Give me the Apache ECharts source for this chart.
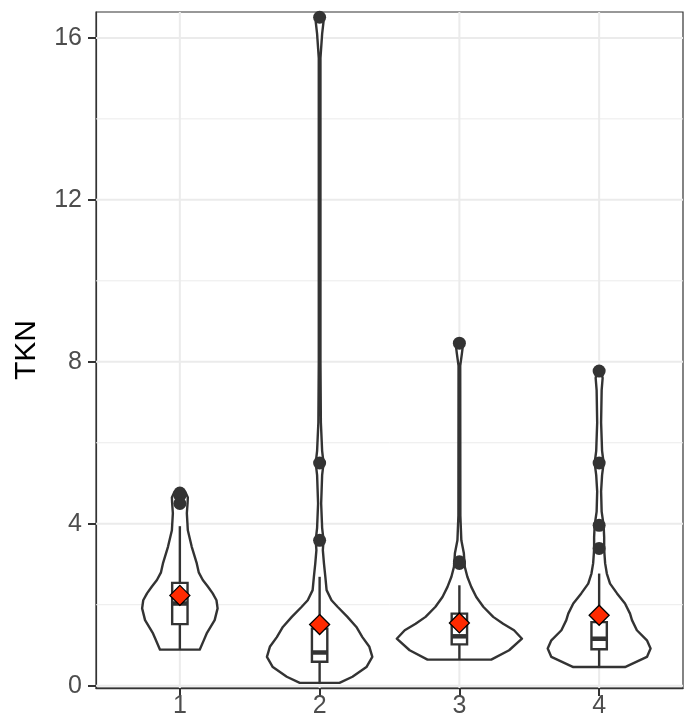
<!DOCTYPE html>
<html><head><meta charset="utf-8">
<script src="https://cdn.jsdelivr.net/npm/echarts@6/dist/echarts.min.js"></script>
<style>html,body{margin:0;padding:0;background:#fff}#c{width:684px;height:724px}</style>
</head><body><div id="c"></div>
<script>
const categories = ['1', '2', '3', '4'];
const categoryPositions = [1, 2, 3, 4];
const yTicks = [0, 4, 8, 12, 16];
const yMinorTicks = [2, 6, 10, 14];

// violin outlines: [TKN value, half-width in category units]
const violin1 = [[0.89,0.142],[1.12,0.171],[1.29,0.192],[1.62,0.249],[1.91,0.270],[2.11,0.262],[2.28,0.235],[2.45,0.200],[2.61,0.164],[2.80,0.135],[3.02,0.121],[3.43,0.085],[3.84,0.057],[4.26,0.050],[4.50,0.055],[4.65,0.057],[4.78,0.040]];
const violin2 = [[0.07,0.142],[0.22,0.235],[0.46,0.335],[0.71,0.377],[0.96,0.356],[1.20,0.306],[1.45,0.263],[1.70,0.199],[1.95,0.128],[2.11,0.085],[2.36,0.050],[2.69,0.041],[3.02,0.031],[3.35,0.023],[3.59,0.028],[3.90,0.018],[4.50,0.011],[5.20,0.018],[5.50,0.028],[5.80,0.018],[6.50,0.009],[8.00,0.006],[15.50,0.006],[16.10,0.018],[16.40,0.028],[16.51,0.014]];
const violin3 = [[0.645,0.228],[0.875,0.356],[1.16,0.448],[1.37,0.391],[1.53,0.313],[1.70,0.242],[1.95,0.171],[2.19,0.121],[2.44,0.085],[2.69,0.057],[2.93,0.039],[3.06,0.036],[3.27,0.032],[3.59,0.014],[4.20,0.007],[7.90,0.006],[8.20,0.018],[8.40,0.025],[8.46,0.011]];
const violin4 = [[0.46,0.185],[0.71,0.342],[0.92,0.368],[1.12,0.342],[1.37,0.270],[1.62,0.235],[1.78,0.221],[2.03,0.185],[2.28,0.128],[2.52,0.078],[2.77,0.055],[3.02,0.043],[3.26,0.038],[3.39,0.036],[3.67,0.036],[3.96,0.032],[4.30,0.018],[4.80,0.014],[5.20,0.021],[5.50,0.032],[5.80,0.021],[6.50,0.014],[7.30,0.018],[7.60,0.025],[7.77,0.014]];

// box plot statistics per category
const whiskerLow = [0.89, 0.07, 0.645, 0.46];
const q1 = [1.52, 0.59, 1.02, 0.90];
const medians = [2.03, 0.82, 1.22, 1.16];
const q3 = [2.54, 1.41, 1.78, 1.57];
const whiskerHigh = [3.94, 2.69, 2.48, 2.77];
const means = [2.23, 1.51, 1.55, 1.74];

const outliers1 = [4.76, 4.70, 4.50];
const outliers2 = [3.59, 5.50, 16.51];
const outliers3 = [3.02, 3.06, 8.46];
const outliers4 = [3.39, 3.96, 5.50, 7.77];

const violins = [violin1, violin2, violin3, violin4];
const outlierGroups = [outliers1, outliers2, outliers3, outliers4];
const boxHalf = 0.055;
const X_MIN = 0.4, X_MAX = 4.6;
const INK = '#333333';
const GRID = '#ebebeb';
const FONT = '"Liberation Sans", Arial, sans-serif';
const LW = 2.4;

const chart = echarts.init(document.getElementById('c'), null, {renderer: 'canvas'});

function hLineSeries(values, width) {
  return {
    type: 'custom', z: 1, silent: true, clip: true,
    data: values.map(v => [X_MIN, v]),
    renderItem: (p, api) => {
      const a = api.coord([X_MIN, api.value(1)]);
      const b = api.coord([X_MAX, api.value(1)]);
      return {type: 'line', shape: {x1: a[0], y1: a[1], x2: b[0], y2: b[1]}, style: {stroke: GRID, lineWidth: width}};
    }
  };
}

const outlierData = [];
outlierGroups.forEach((g, i) => g.forEach(v => outlierData.push([categoryPositions[i], v])));

chart.setOption({
  animation: false,
  backgroundColor: '#fff',
  grid: {left: 96, right: 1, top: 12, bottom: 36, show: true, borderColor: INK, borderWidth: 1.2, backgroundColor: 'transparent'},
  xAxis: {
    type: 'value', min: X_MIN, max: X_MAX,
    axisLine: {show: true, onZero: false, lineStyle: {color: INK, width: 1.4}},
    axisTick: {show: true, customValues: categoryPositions, length: 8, lineStyle: {color: INK, width: 2}},
    axisLabel: {customValues: categoryPositions, formatter: v => categories[Math.round(v) - 1], color: '#4d4d4d', fontSize: 25, fontFamily: FONT, margin: 6},
    splitLine: {show: false}
  },
  yAxis: {
    type: 'value', min: -0.057, max: 16.64,
    name: 'TKN', nameLocation: 'middle', nameGap: 54,
    nameTextStyle: {color: '#000', fontSize: 30, fontFamily: FONT},
    axisLine: {show: true, onZero: false, lineStyle: {color: INK, width: 1.2}},
    axisTick: {show: true, customValues: yTicks, length: 8, lineStyle: {color: INK, width: 2}},
    axisLabel: {customValues: yTicks, color: '#4d4d4d', fontSize: 25, fontFamily: FONT, margin: 14},
    splitLine: {show: false}
  },
  series: [
    hLineSeries(yMinorTicks, 1),
    hLineSeries(yTicks, 2),
    {
      type: 'custom', z: 1, silent: true,
      data: categoryPositions.map(c => [c, 0]),
      renderItem: (p, api) => {
        const a = api.coord([api.value(0), -0.057]);
        const b = api.coord([api.value(0), 16.64]);
        return {type: 'line', shape: {x1: a[0], y1: a[1], x2: b[0], y2: b[1]}, style: {stroke: GRID, lineWidth: 2}};
      }
    },
    {
      type: 'custom', z: 2, silent: true,
      data: categoryPositions.map(c => [c, 0]),
      renderItem: (p, api) => {
        const i = p.dataIndex;
        const x = api.value(0);
        const v = violins[i];
        const pts = [];
        v.forEach(([y, w]) => pts.push(api.coord([x - w, y])));
        for (let k = v.length - 1; k >= 0; k--) pts.push(api.coord([x + v[k][1], v[k][0]]));
        return {type: 'polygon', shape: {points: pts}, style: {fill: '#fff', stroke: INK, lineWidth: LW, lineJoin: 'round'}};
      }
    },
    {
      type: 'custom', z: 3, silent: true,
      data: categoryPositions.map(c => [c, 0]),
      renderItem: (p, api) => {
        const i = p.dataIndex;
        const x = api.value(0);
        const lo = api.coord([x, whiskerLow[i]]);
        const hi = api.coord([x, whiskerHigh[i]]);
        const tl = api.coord([x - boxHalf, q3[i]]);
        const br = api.coord([x + boxHalf, q1[i]]);
        const ml = api.coord([x - boxHalf, medians[i]]);
        const mr = api.coord([x + boxHalf, medians[i]]);
        const st = {stroke: INK, lineWidth: LW};
        return {type: 'group', children: [
          {type: 'line', shape: {x1: lo[0], y1: lo[1], x2: lo[0], y2: br[1]}, style: st},
          {type: 'line', shape: {x1: hi[0], y1: hi[1], x2: hi[0], y2: tl[1]}, style: st},
          {type: 'rect', shape: {x: tl[0], y: tl[1], width: br[0] - tl[0], height: br[1] - tl[1]}, style: {fill: '#fff', stroke: INK, lineWidth: LW}},
          {type: 'line', shape: {x1: ml[0], y1: ml[1], x2: mr[0], y2: mr[1]}, style: {stroke: INK, lineWidth: 4.5}}
        ]};
      }
    },
    {
      type: 'scatter', z: 4, silent: true,
      data: outlierData, symbol: 'circle', symbolSize: 13,
      itemStyle: {color: INK, opacity: 1}
    },
    {
      type: 'scatter', z: 5, silent: true,
      data: means.map((m, i) => [categoryPositions[i], m]), symbol: 'diamond', symbolSize: [20, 20],
      itemStyle: {color: '#ff2a00', borderColor: '#000', borderWidth: 1.3, opacity: 1}
    }
  ]
});
</script></body></html>
